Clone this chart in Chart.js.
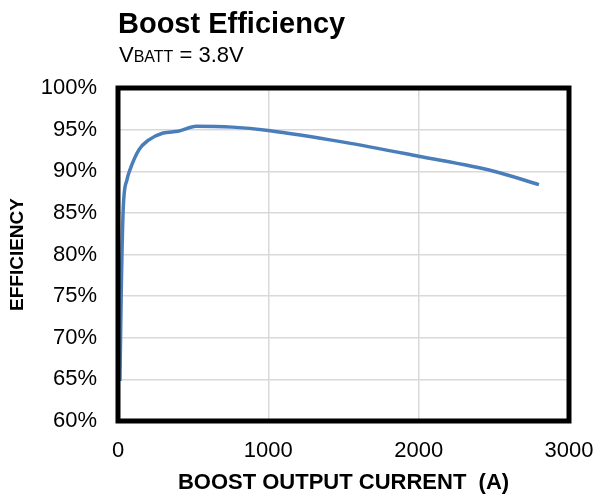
<!DOCTYPE html>
<html>
<head>
<meta charset="utf-8">
<script src="https://cdn.jsdelivr.net/npm/chart.js@4"></script>
<style>
  html, body { margin: 0; padding: 0; background: #fff; }
  .wrap { position: relative; width: 605px; height: 500px; font-family: "Liberation Sans", Arial, sans-serif; }
  .title { position: absolute; left: 118px; top: 9px; font-size: 29px; line-height: 1; font-weight: bold; color: #000; }
  .sub { position: absolute; left: 119px; top: 44px; font-size: 22px; line-height: 1; color: #000; }
  .sub small { font-size: 16px; }
  canvas { position: absolute; left: 0; top: 0; }
</style>
</head>
<body>
<div class="wrap">
  <canvas id="chart" width="605" height="500"></canvas>
  <div class="title">Boost Efficiency</div>
  <div class="sub">V<small>BATT</small> = 3.8V</div>
</div>
<script>
// output current (A) and efficiency (%)
const current = [13, 22, 35, 60, 80, 140, 200, 300, 400, 520, 760, 1000, 1500, 2000, 2500, 2800];
const efficiency = [64.8, 76.0, 85.6, 89.0, 90.2, 92.6, 93.7, 94.6, 94.8, 95.4, 95.3, 94.9, 93.5, 91.8, 90.0, 88.4];
const xTicks = [0, 1000, 2000, 3000];
const yTicks = [60, 65, 70, 75, 80, 85, 90, 95, 100];

const points = current.map((c, i) => ({ x: c, y: efficiency[i] }));

// thick black frame round the plot area
const frame = {
  id: 'frame',
  afterDraw(chart) {
    const { ctx, chartArea: a } = chart;
    ctx.save();
    ctx.strokeStyle = '#000';
    ctx.lineWidth = 5;
    ctx.strokeRect(a.left, a.top, a.right - a.left, a.bottom - a.top);
    ctx.restore();
  }
};

const tickFont = { family: 'Liberation Sans', size: 22 };

new Chart(document.getElementById('chart'), {
  type: 'line',
  data: {
    datasets: [{
      data: points,
      borderColor: '#4a7ebb',
      borderWidth: 3.5,
      pointRadius: 0,
      cubicInterpolationMode: 'monotone',
      fill: false
    }]
  },
  options: {
    responsive: false,
    animation: false,
    layout: { padding: { top: 88, right: 36, left: 0, bottom: 0 } },
    plugins: { legend: { display: false }, tooltip: { enabled: false } },
    scales: {
      x: {
        type: 'linear',
        min: 0, max: 3000,
        afterBuildTicks: s => { s.ticks = xTicks.map(v => ({ value: v })); },
        afterFit: s => { s.height = 79; s.paddingLeft = 0; s.paddingRight = 0; },
        grid: { color: '#d9d9d9', lineWidth: 1.5, drawTicks: false },
        border: { display: false },
        ticks: { color: '#000', font: tickFont, padding: 17, maxRotation: 0,
                 callback: v => String(v) },
        title: { display: true, text: 'BOOST OUTPUT CURRENT  (A)', color: '#000',
                 font: { family: 'Liberation Sans', size: 22, weight: 'bold' }, padding: { top: 4 } }
      },
      y: {
        min: 60, max: 100,
        afterBuildTicks: s => { s.ticks = yTicks.map(v => ({ value: v })); },
        afterFit: s => { s.width = 118; s.paddingTop = 0; s.paddingBottom = 0; },
        grid: { color: '#d9d9d9', lineWidth: 1.5, drawTicks: false },
        border: { display: false },
        ticks: { color: '#000', font: tickFont, padding: 21,
                 callback: v => v + '%' },
        title: { display: true, text: 'EFFICIENCY', color: '#000',
                 font: { family: 'Liberation Sans', size: 19, weight: 'bold' }, padding: { top: 6, bottom: 0 } }
      }
    }
  },
  plugins: [frame]
});
</script>
</body>
</html>
